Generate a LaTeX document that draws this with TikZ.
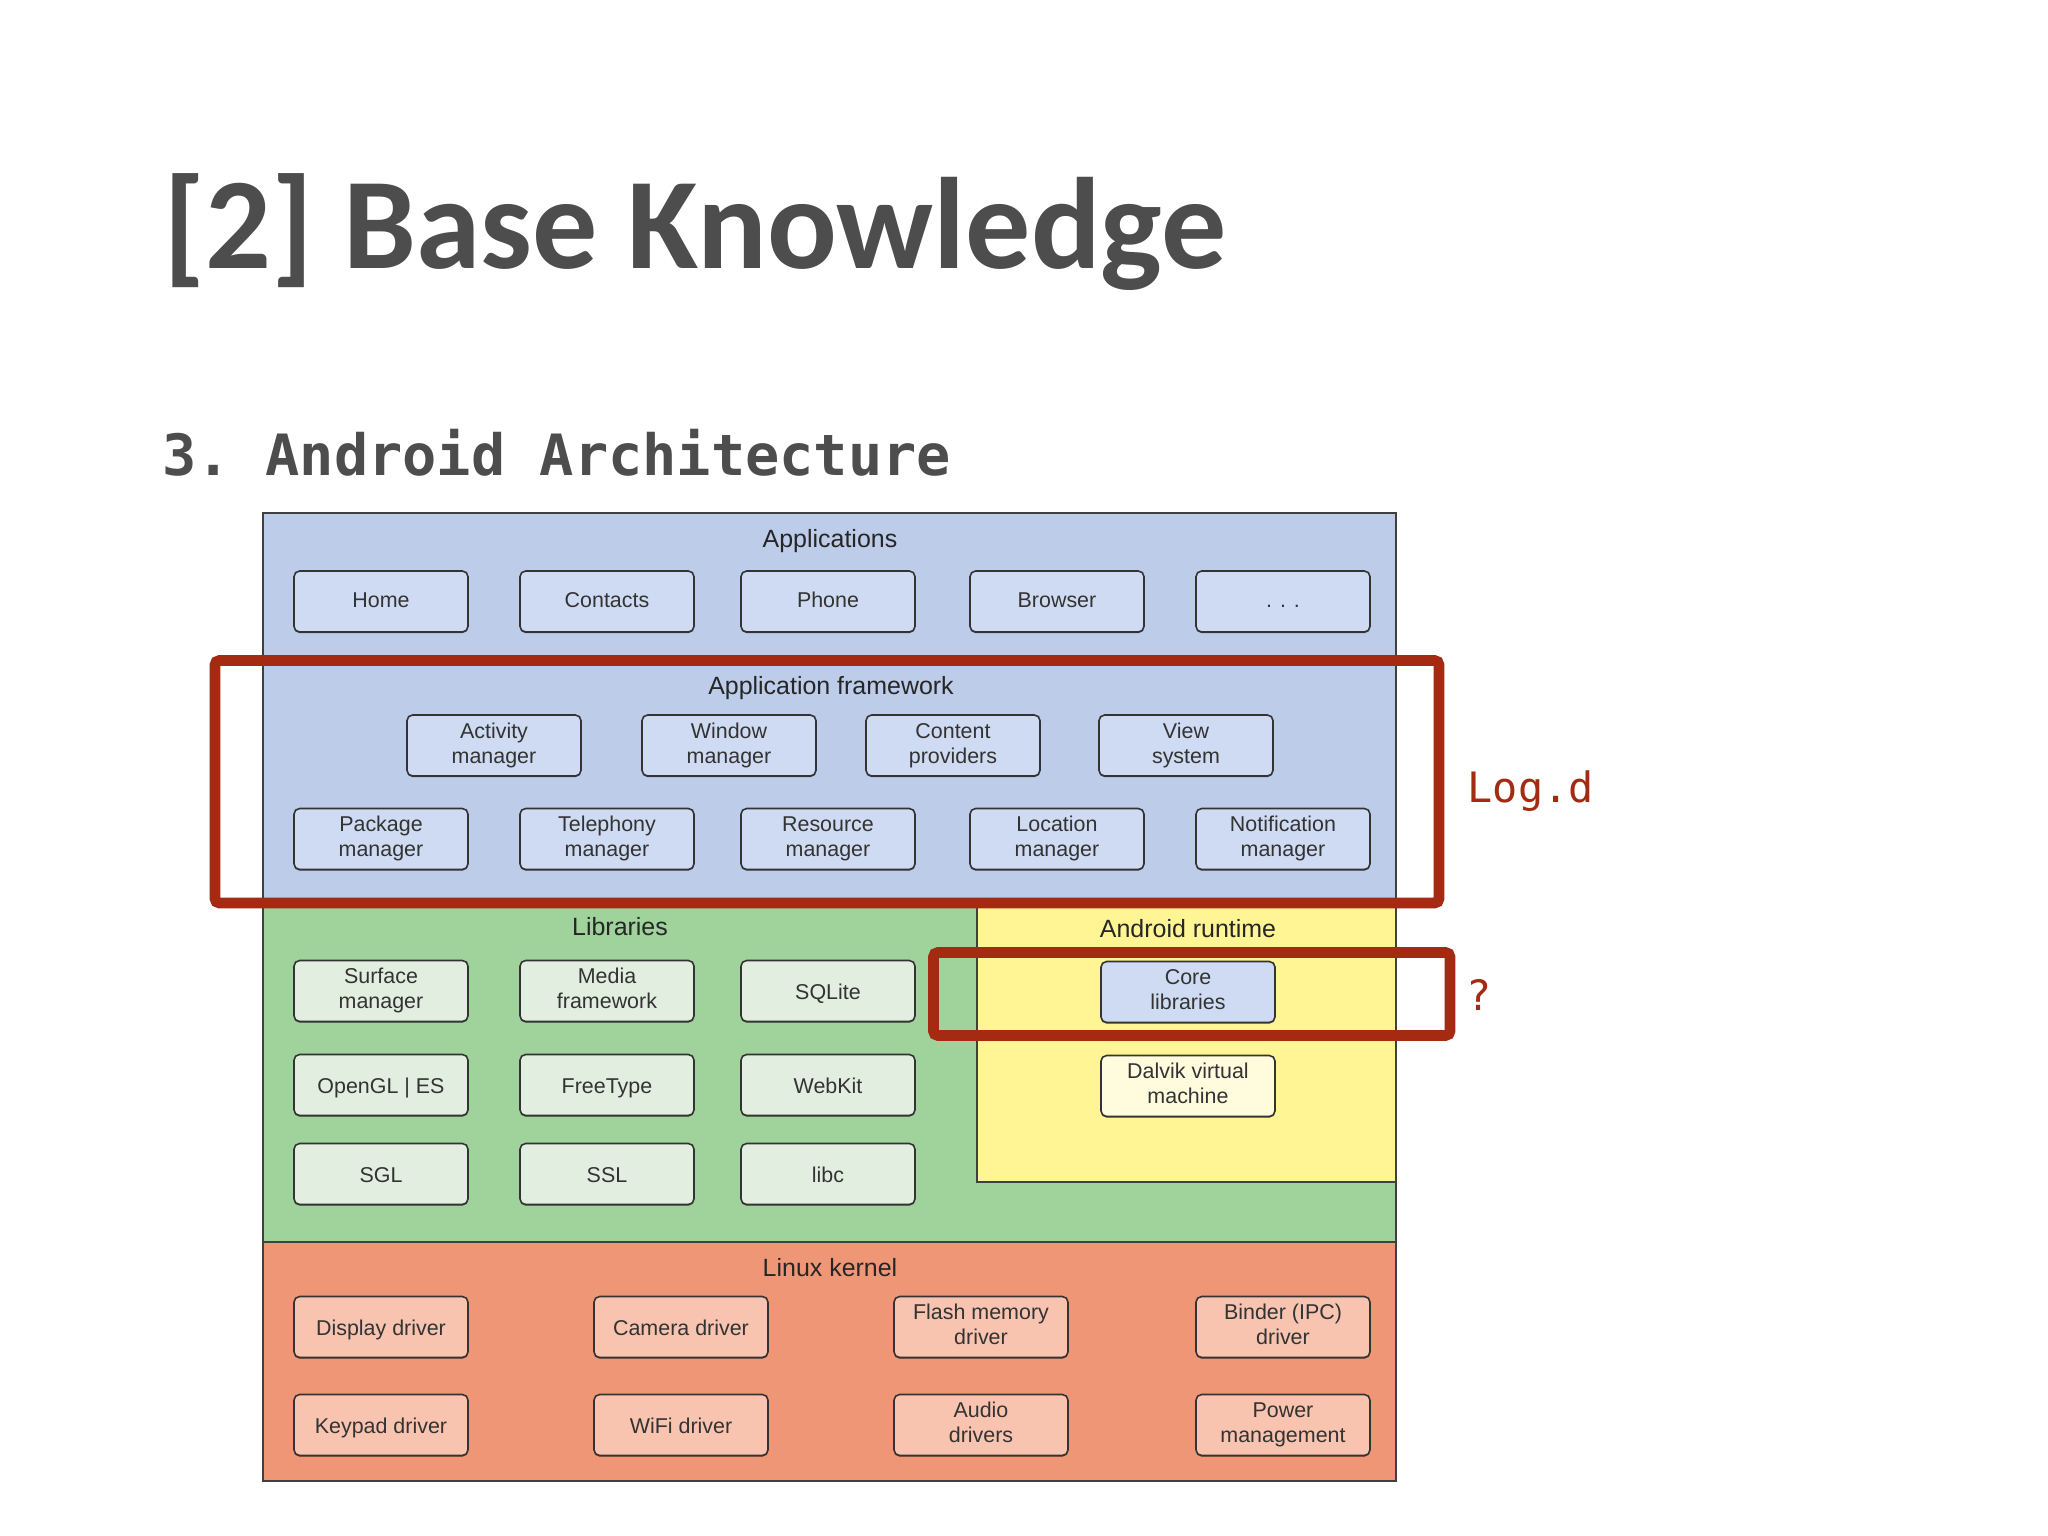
\documentclass[tikz,border=0pt]{standalone}
\usepackage{fontspec}
\setmainfont{Liberation Sans}
\setmonofont{DejaVu Sans Mono}
\newfontfamily\titlefont{Carlito}
\usetikzlibrary{positioning,shadows}
\definecolor{inkgray}{HTML}{4D4D4D}
\definecolor{markred}{HTML}{A52A12}
\definecolor{bluelayer}{HTML}{BCCCE9}
\definecolor{greenlayer}{HTML}{A0D29B}
\definecolor{yellowlayer}{HTML}{FFF595}
\definecolor{orangelayer}{HTML}{EF9677}
\definecolor{bluebox}{HTML}{CFDBF2}
\definecolor{greenbox}{HTML}{E2EFE0}
\definecolor{yellowbox}{HTML}{FFFBDD}
\definecolor{orangebox}{HTML}{F8C3AF}
\newcommand{\boxstrut}{\vrule width 0pt height 4.6pt depth 1.4pt}
\newcommand{\lowstrut}{\vrule width 0pt height 6.2pt depth 1.4pt}

\begin{document}
\begin{tikzpicture}[node distance=0.52cm]
	  \tikzstyle{layer}=[draw=black!75,line width=0.45pt]
	  \tikzstyle{box}=[rectangle,rounded corners=1.6pt,draw=black!80,line width=0.45pt,inner sep=0pt,outer sep=0pt,
	    minimum width=1.74cm,minimum height=0.61cm,align=center,text=black!80,font=\fontsize{6.1}{7.1}\selectfont,
	    execute at begin node=\boxstrut,execute at end node=\boxstrut,
	    drop shadow={shadow xshift=0pt,shadow yshift=-0.35pt,opacity=0.55,fill=black}]
	  \tikzstyle{oneline}=[execute at begin node=\lowstrut]
	  \tikzstyle{bluenode}=[box,fill=bluebox]
	  \tikzstyle{greennode}=[box,fill=greenbox]
	  \tikzstyle{yellownode}=[box,fill=yellowbox]
	  \tikzstyle{orangenode}=[box,fill=orangebox]
	  \tikzstyle{layertitle}=[inner sep=0pt,text=black!85,font=\fontsize{7.1}{8}\selectfont]
	  \tikzstyle{marker}=[draw=markred,line width=3pt,rounded corners=1.2pt]
	  \tikzstyle{note}=[inner sep=0pt,text=markred,font=\ttfamily\fontsize{11.9}{14}\selectfont]

	  \useasboundingbox (0,0) rectangle (20.48,-15.36);

	  % layers
	  \draw[layer,fill=bluelayer] (2.63,-5.13) rectangle (13.96,-9.05);
	  \draw[layer,fill=greenlayer] (2.63,-9.05) rectangle (13.96,-12.42);
	  \draw[layer,fill=yellowlayer] (9.77,-9.05) rectangle (13.96,-11.82);
	  \draw[layer,fill=orangelayer] (2.63,-12.42) rectangle (13.96,-14.81);

	  % headings
	  \node (Title) [anchor=base west,inner sep=0pt,text=inkgray,font=\titlefont\bfseries\fontsize{37}{40}\selectfont] at (1.63,-2.69) {[2] Base Knowledge};
	  \node (Subtitle) [anchor=base west,inner sep=0pt,text=inkgray,font=\ttfamily\bfseries\fontsize{16.2}{18}\selectfont] at (1.62,-4.76) {3. Android Architecture};

	  \node[layertitle] (Applications) at (8.30,-5.415) {Applications};
	  \node[layertitle] (Framework) at (8.31,-6.88) {Application framework};
	  \node[layertitle] (Libraries) at (6.20,-9.27) {Libraries};
	  \node[layertitle] (Runtime) at (11.88,-9.29) {Android runtime};
	  \node[layertitle] (Kernel) at (8.30,-12.68) {Linux kernel};

	  % applications
	  \node[bluenode] (Home) at (3.81,-6.015) {Home};
	  \node[bluenode] (Contacts) [right=of Home] {Contacts};
	  \node[bluenode] (Phone) [right=0.47cm of Contacts] {Phone};
	  \node[bluenode] (Browser) [right=0.55cm of Phone] {Browser};
	  \node[bluenode] (More) [right=0.52cm of Browser] {. . .};

	  % application framework
	  \node[bluenode] (Activity) at (4.94,-7.455) {Activity\\manager};
	  \node[bluenode] (Window) [right=0.61cm of Activity] {Window\\manager};
	  \node[bluenode] (Content) [right=0.50cm of Window] {Content\\providers};
	  \node[bluenode] (View) [right=0.59cm of Content] {View\\system};

	  \node[bluenode] (Package) at (3.81,-8.39) {Package\\manager};
	  \node[bluenode] (Telephony) [right=of Package] {Telephony\\manager};
	  \node[bluenode] (Resource) [right=0.47cm of Telephony] {Resource\\manager};
	  \node[bluenode] (Location) [right=0.55cm of Resource] {Location\\manager};
	  \node[bluenode] (Notification) [right=0.52cm of Location] {Notification\\manager};

	  % libraries
	  \node[greennode] (Surface) at (3.81,-9.91) {Surface\\manager};
	  \node[greennode] (Media) [right=of Surface] {Media\\framework};
	  \node[greennode,oneline] (SQLite) [right=0.47cm of Media] {SQLite};

	  \node[greennode,oneline] (OpenGL) [below=0.33cm of Surface] {OpenGL | ES};
	  \node[greennode,oneline] (FreeType) [right=of OpenGL] {FreeType};
	  \node[greennode,oneline] (WebKit) [right=0.47cm of FreeType] {WebKit};

	  \node[greennode,oneline] (SGL) [below=0.28cm of OpenGL] {SGL};
	  \node[greennode,oneline] (SSL) [right=of SGL] {SSL};
	  \node[greennode,oneline] (libc) [right=0.47cm of SSL] {libc};

	  % android runtime
	  \node[bluenode] (Core) at (11.88,-9.92) {Core\\libraries};
	  \node[yellownode] (Dalvik) [below=0.33cm of Core] {Dalvik virtual\\machine};

	  % linux kernel
	  \node[orangenode,oneline] (Display) at (3.81,-13.27) {Display driver};
	  \node[orangenode,oneline] (Camera) [right=1.26cm of Display] {Camera driver};
	  \node[orangenode] (Flash) [right=1.26cm of Camera] {Flash memory\\driver};
	  \node[orangenode] (Binder) [right=1.28cm of Flash] {Binder (IPC)\\driver};

	  \node[orangenode,oneline] (Keypad) [below=0.37cm of Display] {Keypad driver};
	  \node[orangenode,oneline] (WiFi) [right=1.26cm of Keypad] {WiFi driver};
	  \node[orangenode] (Audio) [right=1.26cm of WiFi] {Audio\\drivers};
	  \node[orangenode] (Power) [right=1.28cm of Audio] {Power\\management};

	  % red markers
	  \draw[marker] (2.15,-6.605) rectangle (14.39,-9.03);
	  \draw[marker] (9.335,-9.525) rectangle (14.50,-10.355);

	  \node[note] (LogD) [anchor=west] at (14.67,-7.91) {Log.d};
	  \node[note] (Question) [anchor=west] at (14.66,-9.95) {?};
\end{tikzpicture}
\end{document}
